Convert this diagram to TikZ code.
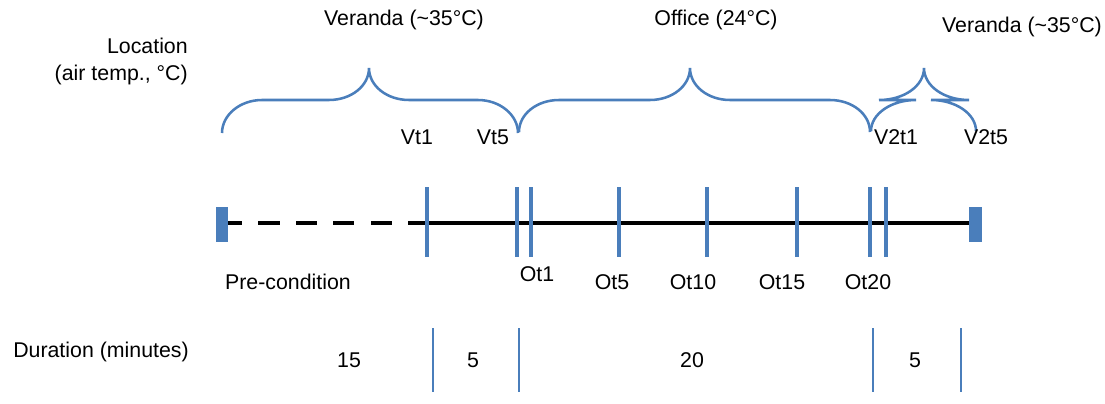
\documentclass[tikz,border=0pt]{standalone}
\usepackage{fontspec}
\setmainfont{Liberation Sans}
\definecolor{tblue}{HTML}{4A7EBB}
\begin{document}
\begin{tikzpicture}[x=0.75pt,y=-0.75pt,
  lbl/.style={font=\fontsize{16}{19}\selectfont, inner sep=0pt},
  brace/.style={draw=tblue, line width=1.9pt},
  tick/.style={draw=tblue, line width=3.3pt},
  dur/.style={draw=tblue, line width=1.6pt},
  tline/.style={draw=black, line width=3.6pt},
  endbox/.style={fill=tblue, draw=none}]
\useasboundingbox (0,0) rectangle (1105,403);
% texts top
\node[lbl, anchor=east] (loc1) at (188,46) {Location};
\node[lbl, anchor=east] (loc2) at (188,75) {(air temp., °C)};
\node[lbl] (ver1) at (404,20) {Veranda (\textasciitilde35°C)};
\node[lbl] (off) at (716,20) {Office (24°C)};
\node[lbl] (ver2) at (1022,27) {Veranda (\textasciitilde35°C)};
% braces
\draw[brace] (222,133) .. controls (222,115) and (240,100) .. (262,100) -- (329,100)
  .. controls (351,100) and (369,86) .. (369,68)
  .. controls (369,86) and (387,100) .. (409,100) -- (478,100)
  .. controls (500,100) and (518,115) .. (518,133);
\draw[brace] (519,132) .. controls (519,114) and (537,100) .. (559,100) -- (650,100)
  .. controls (672,100) and (690,86) .. (690,68)
  .. controls (690,86) and (708,100) .. (730,100) -- (830,100)
  .. controls (852,100) and (870,114) .. (870,132);
\draw[brace] (871,131) .. controls (871,114) and (891,100) .. (916,100) -- (879,100)
  .. controls (904,100) and (924,86) .. (924,68)
  .. controls (924,86) and (944,100) .. (969,100) -- (931,100)
  .. controls (956,100) and (976,114) .. (976,131);
% V labels
\node[lbl] (vt1) at (417,137) {Vt1};
\node[lbl] (vt5) at (493,137) {Vt5};
\node[lbl] (v2t1) at (896,137) {V2t1};
\node[lbl] (v2t5) at (986,137) {V2t5};
% timeline
\node[endbox, minimum width=9.5pt, minimum height=26pt, inner sep=0pt] (lend) at (222,224.5) {};
\node[endbox, minimum width=9.5pt, minimum height=26pt, inner sep=0pt] (rend) at (975.5,224.5) {};
\coordinate (dashend) at (408,223);
\foreach \a/\b in {228/242,258/280,296/317,333/354,371/392}{
  \draw[tline] (\a,223) -- (\b,223);
}
\draw[tline] (dashend) -- (rend.west |- dashend);
\foreach \x/\n in {427/a,517/b,531/c,619/d,707/e,797/f,870/g,886/h}{
  \coordinate (t\n top) at (\x,187);
  \coordinate (t\n bot) at (\x,257);
  \draw[tick] (t\n top) -- (t\n bot);
}
% bottom labels
\node[lbl] (pre) at (288,282) {Pre-condition};
\node[lbl] (ot1) at (537,274) {Ot1};
\node[lbl] (ot5) at (612,282) {Ot5};
\node[lbl] (ot10) at (693,282) {Ot10};
\node[lbl] (ot15) at (782,282) {Ot15};
\node[lbl] (ot20) at (868,282) {Ot20};
% duration
\node[lbl] (durlbl) at (101,352) {Duration (minutes)};
\foreach \x/\n in {433/a,519/b,873/c,961/d}{
  \coordinate (d\n top) at (\x,328);
  \coordinate (d\n bot) at (\x,392);
  \draw[dur] (d\n top) -- (d\n bot);
}
\node[lbl] (d15) at (349,360) {15};
\node[lbl] (d5a) at (473,360) {5};
\node[lbl] (d20) at (692,360) {20};
\node[lbl] (d5b) at (915,360) {5};
\end{tikzpicture}
\end{document}
